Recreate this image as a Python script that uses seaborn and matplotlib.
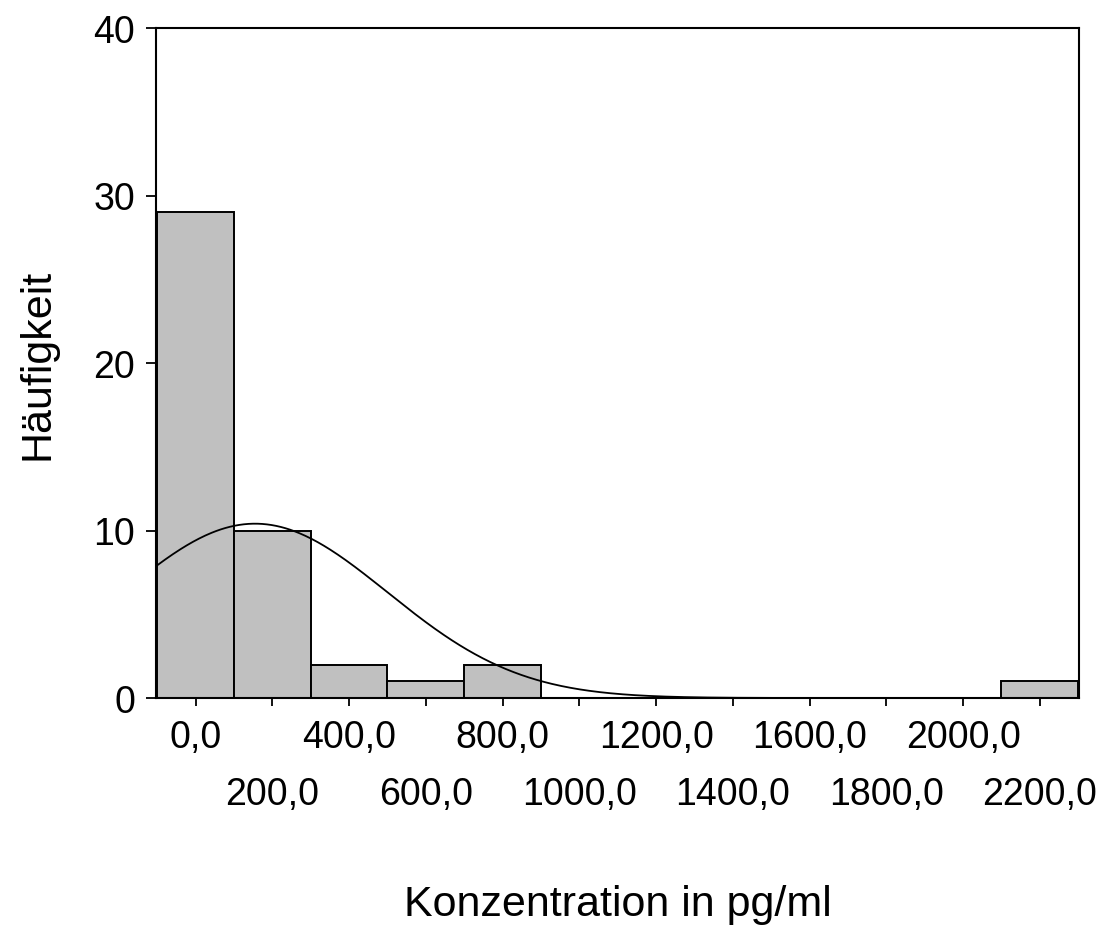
import numpy as np
import matplotlib
matplotlib.use("Agg")
import matplotlib.pyplot as plt
import seaborn as sns
from matplotlib.ticker import FixedLocator, FixedFormatter

# Data
bin_centers = [0, 200, 400, 600, 800, 1000, 1200, 1400, 1600, 1800, 2000, 2200]
bin_counts = [29, 10, 2, 1, 2, 0, 0, 0, 0, 0, 0, 1]
bin_edges = [-100, 100, 300, 500, 700, 900, 1100, 1300, 1500, 1700, 1900, 2100, 2300]
fit_mean = 155.0
fit_sd = 345.0
major_ticks = [0, 400, 800, 1200, 1600, 2000]
major_labels = ["0,0", "400,0", "800,0", "1200,0", "1600,0", "2000,0"]
minor_ticks = [200, 600, 1000, 1400, 1800, 2200]
minor_labels = ["200,0", "600,0", "1000,0", "1400,0", "1800,0", "2200,0"]
y_ticks = [0, 10, 20, 30, 40]

sns.set_theme(style="white")
plt.rcParams["font.family"] = ["Liberation Sans", "DejaVu Sans"]

fig = plt.figure(figsize=(11.04, 9.28), dpi=100)
ax = fig.add_axes([156 / 1104, 1 - 699 / 928, (1079 - 156) / 1104, (699 - 29) / 928])

sns.histplot(x=bin_centers, weights=bin_counts, bins=bin_edges, ax=ax,
             color="#c0c0c0", alpha=1.0, edgecolor="black", linewidth=1.4, stat="count")

n_total = sum(bin_counts)
width = bin_edges[1] - bin_edges[0]
xs = np.linspace(-103, 2302, 600)
ys = n_total * width / (fit_sd * np.sqrt(2 * np.pi)) * np.exp(-0.5 * ((xs - fit_mean) / fit_sd) ** 2)
ax.plot(xs, ys, color="black", linewidth=1.3)

ax.set_xlim(-103, 2302)
ax.set_ylim(0, 40)

ax.xaxis.set_major_locator(FixedLocator(major_ticks))
ax.xaxis.set_major_formatter(FixedFormatter(major_labels))
ax.xaxis.set_minor_locator(FixedLocator(minor_ticks))
ax.xaxis.set_minor_formatter(FixedFormatter(minor_labels))
ax.set_yticks(y_ticks)

ax.tick_params(axis="x", which="major", direction="out", length=6, width=1.3,
               color="black", labelcolor="black", labelsize=27, pad=9, bottom=True)
ax.tick_params(axis="x", which="minor", direction="out", length=6, width=1.3,
               color="black", labelcolor="black", labelsize=27, pad=50, bottom=True)
ax.tick_params(axis="y", which="major", direction="out", length=7, width=1.3,
               color="black", labelcolor="black", labelsize=27, pad=8, left=True)

for s in ax.spines.values():
    s.set_visible(True)
    s.set_color("black")
    s.set_linewidth(1.5)

ax.set_xlabel("Konzentration in pg/ml", fontsize=31, labelpad=52, color="black")
ax.set_ylabel("Häufigkeit", fontsize=31, labelpad=26, color="black")
ax.grid(False)

fig.savefig("out.png", dpi=100, facecolor="white")
